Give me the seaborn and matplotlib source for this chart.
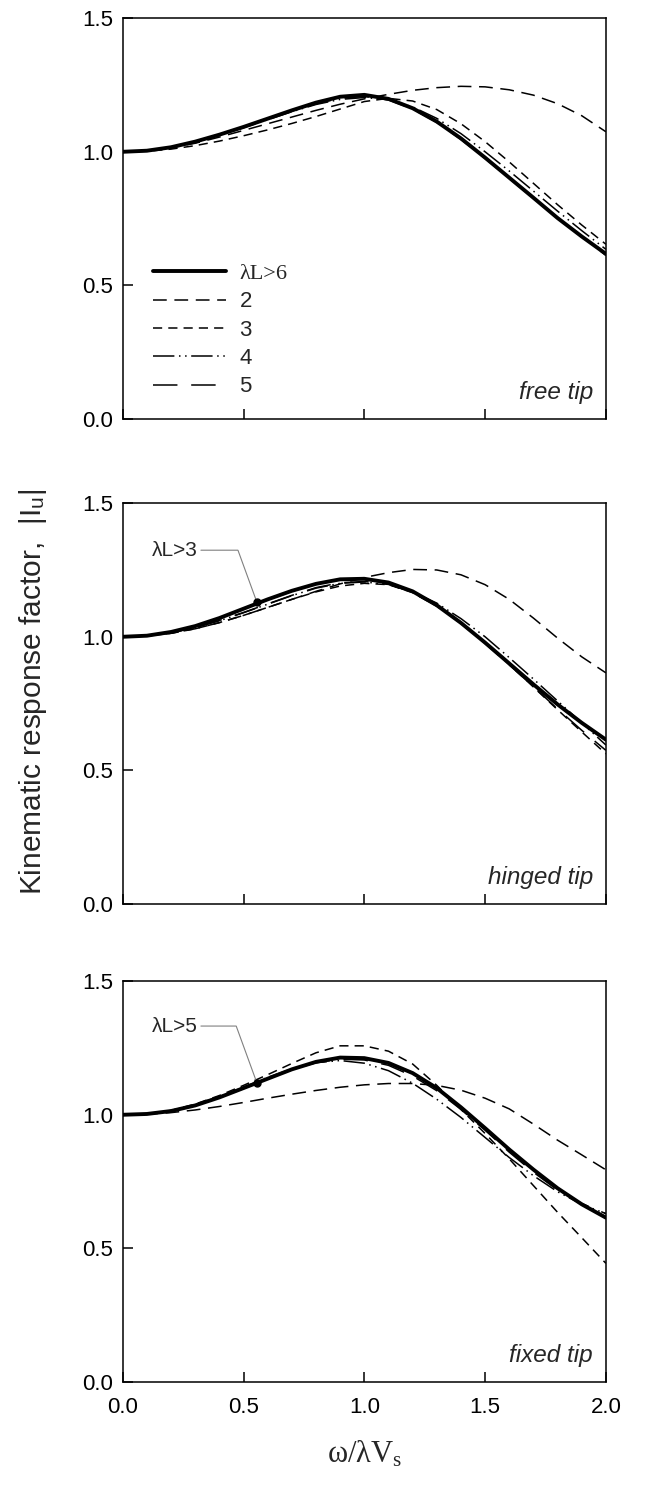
import matplotlib.pyplot as plt
import seaborn as sns
import pandas as pd
import numpy as np

sns.set_style('ticks')
plt.rcParams['font.family'] = ['Liberation Sans', 'DejaVu Sans']
plt.rcParams['mathtext.fontset'] = 'stix'

# dimensionless frequency w / (lambda Vs)
freq = [0.0, 0.1, 0.2, 0.3, 0.4, 0.5, 0.6, 0.7, 0.8, 0.9, 1.0,
        1.1, 1.2, 1.3, 1.4, 1.5, 1.6, 1.7, 1.8, 1.9, 2.0]

# free tip
free_6 = [1.000, 1.004, 1.017, 1.038, 1.064, 1.093, 1.124, 1.155, 1.184, 1.206, 1.213,
          1.198, 1.163, 1.113, 1.050, 0.978, 0.903, 0.828, 0.752, 0.683, 0.618]
free_2 = [1.000, 1.004, 1.015, 1.032, 1.055, 1.080, 1.105, 1.130, 1.155, 1.178, 1.198,
          1.215, 1.230, 1.240, 1.245, 1.243, 1.232, 1.212, 1.180, 1.135, 1.075]
free_3 = [1.000, 1.002, 1.010, 1.023, 1.040, 1.060, 1.082, 1.106, 1.132, 1.160, 1.188,
          1.200, 1.190, 1.158, 1.105, 1.038, 0.962, 0.882, 0.802, 0.726, 0.654]
free_4 = [1.000, 1.004, 1.016, 1.036, 1.062, 1.090, 1.120, 1.150, 1.177, 1.196, 1.203,
          1.195, 1.168, 1.125, 1.068, 1.000, 0.928, 0.853, 0.778, 0.705, 0.635]
free_5 = [1.000, 1.004, 1.017, 1.037, 1.063, 1.092, 1.122, 1.152, 1.180, 1.200, 1.207,
          1.194, 1.160, 1.110, 1.046, 0.975, 0.900, 0.826, 0.754, 0.683, 0.612]

# hinged tip
hinged_6 = [1.000, 1.004, 1.018, 1.040, 1.070, 1.105, 1.140, 1.172, 1.198, 1.215, 1.217,
            1.203, 1.170, 1.118, 1.052, 0.978, 0.900, 0.822, 0.747, 0.678, 0.615]
hinged_2 = [1.000, 1.003, 1.013, 1.030, 1.053, 1.080, 1.110, 1.140, 1.170, 1.198, 1.222,
            1.240, 1.252, 1.250, 1.232, 1.195, 1.140, 1.070, 0.995, 0.925, 0.865]
hinged_3 = [1.000, 1.003, 1.013, 1.030, 1.053, 1.080, 1.110, 1.140, 1.168, 1.190, 1.200,
            1.195, 1.165, 1.115, 1.052, 0.978, 0.896, 0.812, 0.727, 0.644, 0.562]
hinged_4 = [1.000, 1.004, 1.015, 1.034, 1.060, 1.090, 1.122, 1.154, 1.182, 1.200, 1.205,
            1.196, 1.168, 1.126, 1.068, 1.000, 0.922, 0.842, 0.760, 0.678, 0.595]
hinged_5 = [1.000, 1.004, 1.016, 1.035, 1.061, 1.091, 1.123, 1.155, 1.184, 1.202, 1.207,
            1.197, 1.165, 1.115, 1.050, 0.975, 0.895, 0.813, 0.730, 0.650, 0.575]

# fixed tip
fixed_6 = [1.000, 1.003, 1.014, 1.035, 1.065, 1.100, 1.135, 1.170, 1.198, 1.214, 1.212,
           1.194, 1.156, 1.100, 1.028, 0.950, 0.870, 0.795, 0.725, 0.665, 0.615]
fixed_2 = [1.000, 1.002, 1.008, 1.018, 1.031, 1.046, 1.062, 1.077, 1.091, 1.103, 1.112,
           1.117, 1.117, 1.110, 1.092, 1.062, 1.022, 0.965, 0.905, 0.850, 0.794]
fixed_3 = [1.000, 1.003, 1.016, 1.040, 1.072, 1.110, 1.150, 1.192, 1.232, 1.258, 1.258,
           1.238, 1.190, 1.110, 1.020, 0.930, 0.835, 0.735, 0.635, 0.540, 0.444]
fixed_4 = [1.000, 1.003, 1.016, 1.038, 1.068, 1.103, 1.140, 1.172, 1.195, 1.203, 1.193,
           1.165, 1.118, 1.058, 0.990, 0.915, 0.840, 0.772, 0.712, 0.665, 0.630]
fixed_5 = [1.000, 1.003, 1.015, 1.036, 1.064, 1.098, 1.135, 1.168, 1.195, 1.208, 1.205,
           1.185, 1.145, 1.090, 1.020, 0.942, 0.860, 0.785, 0.718, 0.668, 0.630]

cases = ['6', '2', '3', '4', '5']
labels = {'6': 'λL>6', '2': '2', '3': '3', '4': '4', '5': '5'}
dashes = {'6': '-', '2': (0, (9, 5)), '3': (0, (6, 4)),
          '4': (0, (14, 3, 1, 3, 1, 3)), '5': (0, (16, 9))}
widths = {'6': 2.8, '2': 1.1, '3': 1.1, '4': 1.1, '5': 1.1}

panels = [
    ('free tip', [free_6, free_2, free_3, free_4, free_5]),
    ('hinged tip', [hinged_6, hinged_2, hinged_3, hinged_4, hinged_5]),
    ('fixed tip', [fixed_6, fixed_2, fixed_3, fixed_4, fixed_5]),
]

# marked points (where curves join the lambdaL>6 one)
mark_x = 0.555
mark_y = {'hinged tip': 1.13, 'fixed tip': 1.12}
mark_txt = {'hinged tip': 'λL>3', 'fixed tip': 'λL>5'}
mark_lab_y = {'hinged tip': 1.324, 'fixed tip': 1.332}

fig = plt.figure(figsize=(6.6, 14.9), dpi=100)
bottoms = [0.7188, 0.3933, 0.0725]
axes = [fig.add_axes([0.186, b, 0.732, 0.2690]) for b in bottoms]

for ax, (name, series) in zip(axes, panels):
    df = pd.DataFrame({
        'freq': freq * len(cases),
        'val': sum(series, []),
        'case': np.repeat(cases, len(freq)),
    })
    # thin lines first, thick on top
    for c in cases[1:] + cases[:1]:
        sub = df[df['case'] == c]
        sns.lineplot(data=sub, x='freq', y='val', ax=ax, color='black',
                     lw=widths[c], linestyle=dashes[c], label=labels[c],
                     errorbar=None, sort=False, legend=False,
                     solid_joinstyle='round', dash_joinstyle='round')

    ax.set_xlim(0, 2)
    ax.set_ylim(0, 1.5)
    ax.set_xticks([0.0, 0.5, 1.0, 1.5, 2.0])
    ax.set_yticks([0.0, 0.5, 1.0, 1.5])
    ax.set_yticklabels(['0.0', '0.5', '1.0', '1.5'])
    ax.tick_params(direction='in', length=7, width=1.1, labelsize=16,
                   colors='black')
    ax.tick_params(axis='y', pad=7)
    ax.tick_params(axis='x', pad=11)
    ax.set_xlabel('')
    ax.set_ylabel('')
    for s in ax.spines.values():
        s.set_linewidth(1.1)
        s.set_color('black')
        s.set_visible(True)
    if ax is not axes[-1]:
        ax.set_xticklabels([])
    else:
        ax.set_xticklabels(['0.0', '0.5', '1.0', '1.5', '2.0'])

    ax.text(0.973, 0.067, name, transform=ax.transAxes, ha='right',
            va='center', fontsize=17.5, style='italic')

    if name in mark_y:
        ax.plot([mark_x], [mark_y[name]], 'o', color='black', ms=5, zorder=5)
        ax.annotate(mark_txt[name], xy=(mark_x, mark_y[name]),
                    xytext=(0.31, mark_lab_y[name]), ha='right', va='center',
                    fontsize=15,
                    arrowprops=dict(arrowstyle='-', color='gray', lw=0.8,
                                    shrinkA=0, shrinkB=2,
                                    connectionstyle='angle,angleA=0,angleB=110,rad=0'))

# legend in top panel
ax0 = axes[0]
h, l = ax0.get_legend_handles_labels()
order = [l.index(labels[c]) for c in cases]
leg = ax0.legend([h[i] for i in order], [l[i] for i in order],
                 loc='upper left', bbox_to_anchor=(0.062, 0.388),
                 frameon=False, fontsize=16, handlelength=3.3,
                 handletextpad=0.6, labelspacing=0.33, borderpad=0,
                 borderaxespad=0)
leg.get_texts()[0].set_family('Liberation Serif')

fig.text(0.05, 0.536, 'Kinematic response factor,  |I$_\\mathregular{u}$|',
         rotation=90, ha='center', va='center', fontsize=21.5)
fig.text(0.552, 0.0235, 'ω/λV$_\\mathregular{s}$', family='Liberation Serif',
         ha='center', va='center', fontsize=22)

fig.savefig('out.png', dpi=100)
